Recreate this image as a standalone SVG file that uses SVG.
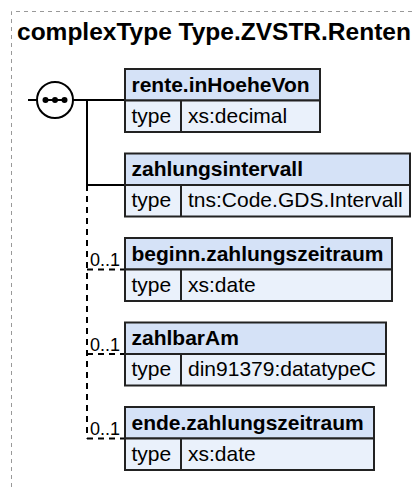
<svg xmlns="http://www.w3.org/2000/svg" width="415" height="490" viewBox="0 0 415 490">
<defs>
<style>
.frame{fill:none;stroke:#999;stroke-width:1;stroke-dasharray:4,4}
.title{font-family:"Liberation Sans",Arial,sans-serif;font-weight:bold;font-size:24.5px;fill:#000}
.hd{fill:#d5e2f7;stroke:#222;stroke-width:2}
.row{fill:#eaf1fb;stroke:#222;stroke-width:2}
.div{stroke:#222;stroke-width:2}
.nm{font-family:"Liberation Sans",Arial,sans-serif;font-weight:bold;font-size:21px;fill:#000}
.tx{font-family:"Liberation Sans",Arial,sans-serif;font-size:21px;fill:#000}
.occ{font-family:"Liberation Sans",Arial,sans-serif;font-size:18px;fill:#000}
.c{fill:none;stroke:#000;stroke-width:2}
.d{fill:none;stroke:#000;stroke-width:2;stroke-dasharray:6,5}
</style>
</defs>
<path class="frame" d="M11.5,495 V11.5 H420"/>
<text class="title" x="17" y="40">complexType Type.ZVSTR.Renten</text>
<g id="connectors">
<line class="c" x1="28" y1="100" x2="37" y2="100"/>
<line class="c" x1="73" y1="100" x2="125" y2="100"/>
<line class="c" x1="87" y1="100" x2="87" y2="185"/>
<line class="c" x1="87" y1="185" x2="125" y2="185"/>
<path class="d" d="M87,185 V438.5"/>
<path class="d" d="M87,269.5 H125"/>
<path class="d" d="M87,354 H125"/>
<path class="d" d="M87,438.5 H125"/>
<text class="occ" x="90" y="266">0..1</text>
<text class="occ" x="90" y="350.5">0..1</text>
<text class="occ" x="90" y="435">0..1</text>
</g>
<g id="sequence">
<circle cx="55" cy="100" r="18" fill="#fff" stroke="#000" stroke-width="2"/>
<line x1="45" y1="100" x2="65" y2="100" stroke="#000" stroke-width="2"/>
<circle cx="45.5" cy="100" r="3"/>
<circle cx="55" cy="100" r="3"/>
<circle cx="64.5" cy="100" r="3"/>
</g>
<g id="rente.inHoeheVon">
<rect class="hd" x="125" y="69" width="195" height="31.5"/>
<rect class="row" x="125" y="100.5" width="195" height="31.5"/>
<line class="div" x1="181" y1="100.5" x2="181" y2="132"/>
<text class="nm" x="131.5" y="91.5">rente.inHoeheVon</text>
<text class="tx" x="131.5" y="122.5">type</text>
<text class="tx" x="188" y="122.5">xs:decimal</text>
</g>
<g id="zahlungsintervall">
<rect class="hd" x="125" y="153.5" width="285" height="31.5"/>
<rect class="row" x="125" y="185" width="285" height="31.5"/>
<line class="div" x1="181" y1="185" x2="181" y2="216.5"/>
<text class="nm" x="131.5" y="176">zahlungsintervall</text>
<text class="tx" x="131.5" y="207">type</text>
<text class="tx" x="188" y="207">tns:Code.GDS.Intervall</text>
</g>
<g id="beginn.zahlungszeitraum">
<rect class="hd" x="125" y="238" width="267" height="31.5"/>
<rect class="row" x="125" y="269.5" width="267" height="31.5"/>
<line class="div" x1="181" y1="269.5" x2="181" y2="301"/>
<text class="nm" x="131.5" y="260.5">beginn.zahlungszeitraum</text>
<text class="tx" x="131.5" y="291.5">type</text>
<text class="tx" x="188" y="291.5">xs:date</text>
</g>
<g id="zahlbarAm">
<rect class="hd" x="125" y="322.5" width="261" height="31.5"/>
<rect class="row" x="125" y="354" width="261" height="31.5"/>
<line class="div" x1="181" y1="354" x2="181" y2="385.5"/>
<text class="nm" x="131.5" y="345">zahlbarAm</text>
<text class="tx" x="131.5" y="376">type</text>
<text class="tx" x="188" y="376">din91379:datatypeC</text>
</g>
<g id="ende.zahlungszeitraum">
<rect class="hd" x="125" y="407" width="249" height="31.5"/>
<rect class="row" x="125" y="438.5" width="249" height="31.5"/>
<line class="div" x1="181" y1="438.5" x2="181" y2="470"/>
<text class="nm" x="131.5" y="429.5">ende.zahlungszeitraum</text>
<text class="tx" x="131.5" y="460.5">type</text>
<text class="tx" x="188" y="460.5">xs:date</text>
</g>
</svg>
